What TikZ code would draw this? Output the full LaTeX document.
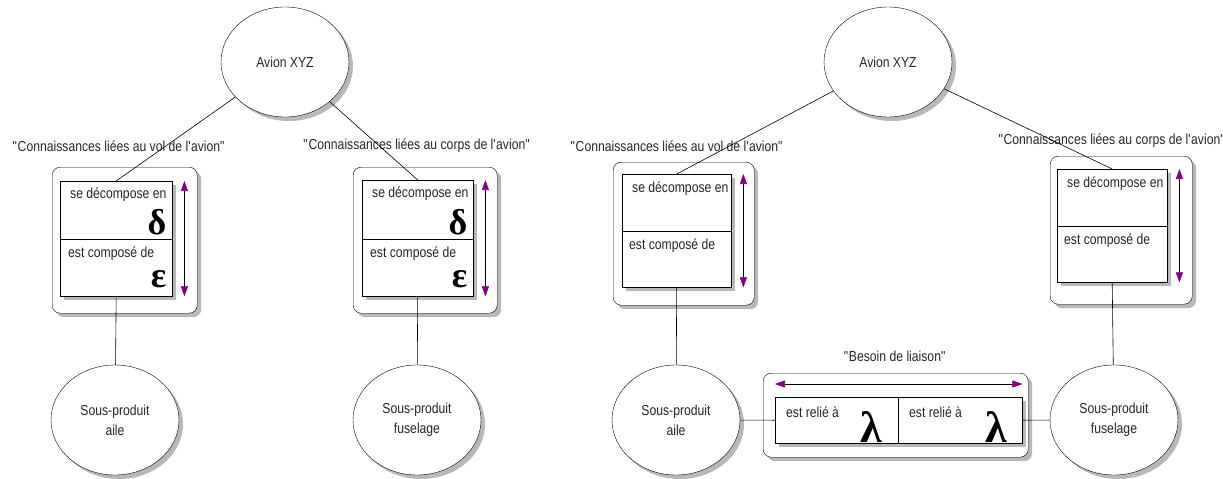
\documentclass[tikz,border=0pt]{standalone}
\usepackage{fontspec}
\setmainfont{Liberation Sans}[FakeStretch=0.84]
\newfontfamily\greekfont{Liberation Serif}
\usetikzlibrary{shapes.geometric,shadows,arrows.meta}
\definecolor{headpurple}{RGB}{128,0,128}
\tikzset{
  shade/.style={drop shadow={shadow xshift=4pt,shadow yshift=-4pt,fill=black!28,opacity=1}},
  entity/.style={ellipse,draw,fill=white,minimum width=128pt,minimum height=110pt,
    inner sep=0pt,align=center,font=\fontsize{14.5}{20}\selectfont,text=black!85,shade},
  frame/.style={draw,rounded corners=8pt,fill=white,anchor=north west,inner sep=0pt,shade},
  cellbox/.style={draw,fill=white,anchor=north west,inner sep=0pt,shade},
  lbl/.style={font=\fontsize{14.5}{16}\selectfont,text=black!85,inner sep=0pt},
  greek/.style={font=\greekfont\bfseries\fontsize{36}{36}\selectfont,inner sep=0pt,anchor=south east},
  link/.style={draw,line width=0.6pt},
  both/.style={line width=0.6pt,
    {Triangle[length=10pt,width=7pt,color=headpurple]}-{Triangle[length=10pt,width=7pt,color=headpurple]}}
}
\newcommand{\q}{\textquotedbl}
\newcommand{\ap}{\textquotesingle}
\begin{document}
\begin{tikzpicture}[x=1pt,y=-1pt]
\useasboundingbox (0,0) rectangle (1223,479);

% first tree
\node[entity] (avionA) at (285,62) {Avion XYZ};
\node[lbl] (volA) at (119,146) {\q Connaissances liées au vol de l\ap avion\q};
\node[lbl] (corpsA) at (417,146) {\q Connaissances liées au corps de l\ap avion\q};

\node[frame,minimum width=145pt,minimum height=146pt] (frameA) at (52,167) {};
\node[cellbox,minimum width=112pt,minimum height=58pt] (topA) at (60,181) {};
\node[cellbox,minimum width=112pt,minimum height=57pt] (botA) at (60,239) {};
\node[lbl,anchor=north west] at ([xshift=10pt,yshift=-7pt]topA.north west) {se décompose en};
\node[lbl,anchor=north west] at ([xshift=8pt,yshift=-8pt]botA.north west) {est composé de};
\node[greek] at ([xshift=-6pt,yshift=4pt]topA.south east) {δ};
\node[greek] at ([xshift=-6pt,yshift=8pt]botA.south east) {ε};
\draw[both] ([xshift=12pt]topA.north east) -- ([xshift=12pt]botA.south east);

\node[frame,minimum width=144pt,minimum height=146pt] (frameA2) at (353,167) {};
\node[cellbox,minimum width=111pt,minimum height=59pt] (topA2) at (362,180) {};
\node[cellbox,minimum width=111pt,minimum height=57pt] (botA2) at (362,239) {};
\node[lbl,anchor=north west] at ([xshift=10pt,yshift=-7pt]topA2.north west) {se décompose en};
\node[lbl,anchor=north west] at ([xshift=8pt,yshift=-8pt]botA2.north west) {est composé de};
\node[greek] at ([xshift=-6pt,yshift=4pt]topA2.south east) {δ};
\node[greek] at ([xshift=-6pt,yshift=8pt]botA2.south east) {ε};
\draw[both] ([xshift=12pt]topA2.north east) -- ([xshift=12pt]botA2.south east);

\node[entity] (aileA) at (115,420) {Sous-produit\\aile};
\node[entity] (fuselA) at (417,420) {Sous-produit\\fuselage};

\draw[link] (avionA) -- (topA.north);
\draw[link] (avionA) -- (topA2.north);
\draw[link] (botA.south) -- (aileA);
\draw[link] (botA2.south) -- (fuselA);

% second tree, with the link box
\node[entity] (avionB) at (888,62) {Avion XYZ};
\node[lbl] (volB) at (677,146) {\q Connaissances liées au vol de l\ap avion\q};
\node[lbl] (corpsB) at (1112,141) {\q Connaissances liées au corps de l\ap avion\q};

\node[frame,minimum width=141pt,minimum height=143pt] (frameB) at (613,162) {};
\node[cellbox,minimum width=109pt,minimum height=57pt] (topB) at (622,174) {};
\node[cellbox,minimum width=109pt,minimum height=56pt] (botB) at (622,231) {};
\node[lbl,anchor=north west] at ([xshift=10pt,yshift=-8pt]topB.north west) {se décompose en};
\node[lbl,anchor=north west] at ([xshift=7pt,yshift=-8pt]botB.north west) {est composé de};
\draw[both] ([xshift=12pt]topB.north east) -- ([xshift=12pt]botB.south east);

\node[frame,minimum width=142pt,minimum height=148pt] (frameB2) at (1050,156) {};
\node[cellbox,minimum width=110pt,minimum height=57pt] (topB2) at (1057,169) {};
\node[cellbox,minimum width=110pt,minimum height=56pt] (botB2) at (1057,226) {};
\node[lbl,anchor=north west] at ([xshift=10pt,yshift=-8pt]topB2.north west) {se décompose en};
\node[lbl,anchor=north west] at ([xshift=7pt,yshift=-8pt]botB2.north west) {est composé de};
\draw[both] ([xshift=12pt]topB2.north east) -- ([xshift=12pt]botB2.south east);

\node[entity] (aileB) at (676,420) {Sous-produit\\aile};
\node[entity] (fuselB) at (1114,420) {Sous-produit\\fuselage};

\node[lbl] (besoin) at (895,356) {\q Besoin de liaison\q};
\node[frame,minimum width=265pt,minimum height=84pt] (frameL) at (763,373) {};
\node[cellbox,minimum width=123pt,minimum height=46pt] (leftL) at (775,397) {};
\node[cellbox,minimum width=124pt,minimum height=46pt] (rightL) at (898,397) {};
\node[lbl,anchor=north west] at ([xshift=11pt,yshift=-10pt]leftL.north west) {est relié à};
\node[lbl,anchor=north west] at ([xshift=11pt,yshift=-10pt]rightL.north west) {est relié à};
\node[greek,font=\greekfont\bfseries\fontsize{44}{44}\selectfont] at ([xshift=-16pt,yshift=1pt]leftL.south east) {λ};
\node[greek,font=\greekfont\bfseries\fontsize{44}{44}\selectfont] at ([xshift=-15pt,yshift=1pt]rightL.south east) {λ};
\draw[both] ([yshift=13pt]leftL.north west) -- ([yshift=13pt]rightL.north east);

\draw[link] (avionB) -- (topB.north);
\draw[link] (avionB) -- (topB2.north);
\draw[link] (botB.south) -- (aileB);
\draw[link] (botB2.south) -- (fuselB);
\draw[link] (aileB) -- (leftL.west);
\draw[link] (rightL.east) -- (fuselB);
\end{tikzpicture}
\end{document}
